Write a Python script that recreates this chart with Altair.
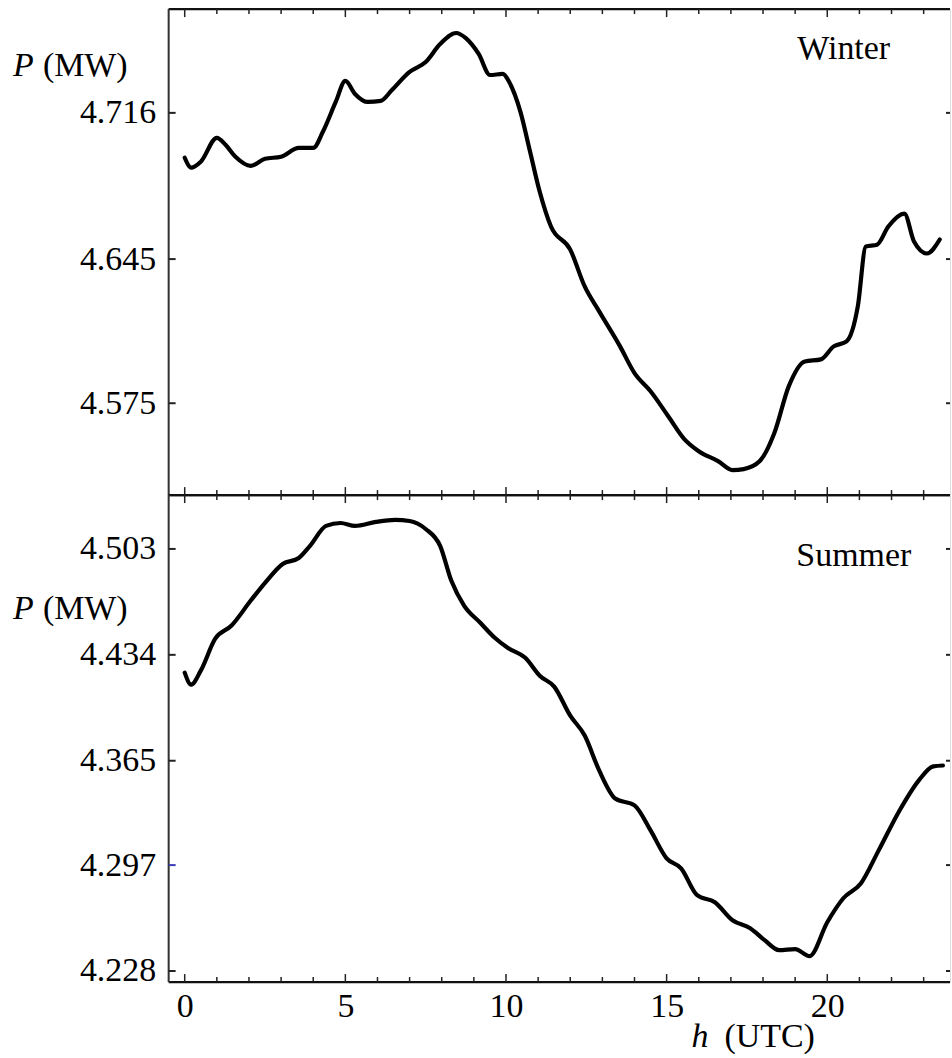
import altair as alt
import pandas as pd

# ---------------- data ----------------
HOURS_WINTER = [0, 0.2, 0.5, 1.0, 1.27, 1.58, 2.05, 2.5, 3.0, 3.55, 4.0, 4.3, 4.7, 5.0,
                5.3, 5.7, 6.1, 6.45, 7.0, 7.5, 7.95, 8.45, 8.75, 9.15, 9.5, 9.9, 10.1,
                10.45, 10.75, 11.05, 11.4, 12.0, 12.45, 12.9, 13.55, 14.0, 14.5, 15.05,
                15.55, 16.0, 16.6, 17.05, 17.4, 17.9, 18.35, 18.8, 19.3, 19.8, 20.2,
                20.6, 20.95, 21.2, 21.55, 21.9, 22.4, 22.7, 23.1, 23.5]
POWER_WINTER = [4.6942, 4.6894, 4.6923, 4.7039, 4.7005, 4.6947, 4.6903, 4.6937, 4.6947,
                4.6990, 4.6990, 4.7068, 4.7213, 4.7315, 4.7252, 4.7213, 4.7218, 4.7271,
                4.7359, 4.7407, 4.7494, 4.7548, 4.7523, 4.7446, 4.7344, 4.7349, 4.7310,
                4.7165, 4.6971, 4.6777, 4.6608, 4.6496, 4.6317, 4.6196, 4.6026, 4.5896,
                4.5808, 4.5687, 4.5576, 4.5517, 4.5469, 4.5425, 4.5430, 4.5469, 4.5604,
                4.5832, 4.5953, 4.5963, 4.6026, 4.6050, 4.6220, 4.6511, 4.6520, 4.6608,
                4.6671, 4.6535, 4.6477, 4.6545]

HOURS_SUMMER = [0, 0.2, 0.5, 0.95, 1.45, 2.05, 2.5, 3.05, 3.55, 3.9, 4.4, 4.85, 5.3,
                5.95, 6.55, 7.0, 7.5, 7.95, 8.3, 8.7, 9.2, 9.65, 10.05, 10.6, 11.05,
                11.5, 12.0, 12.45, 12.9, 13.4, 14.0, 14.5, 15.0, 15.45, 15.95, 16.5,
                17.05, 17.6, 18.05, 18.5, 19.0, 19.45, 20.0, 20.5, 21.05, 21.6, 22.25,
                22.85, 23.3, 23.6]
POWER_SUMMER = [4.4224, 4.4146, 4.4237, 4.4445, 4.4529, 4.4692, 4.4809, 4.4932, 4.4971,
                4.5050, 4.5180, 4.5199, 4.5180, 4.5206, 4.5219, 4.5212, 4.5160, 4.5050,
                4.4822, 4.4659, 4.4549, 4.4451, 4.4386, 4.4321, 4.4204, 4.4133, 4.3944,
                4.3814, 4.3587, 4.3404, 4.3359, 4.3196, 4.3014, 4.2949, 4.2774, 4.2728,
                4.2611, 4.2559, 4.2481, 4.2416, 4.2423, 4.2377, 4.2598, 4.2754, 4.2852,
                4.3066, 4.3326, 4.3522, 4.3613, 4.3619]

YTICKS_WINTER = [4.716, 4.645, 4.575]
YTICKS_SUMMER = [4.503, 4.434, 4.365, 4.297, 4.228]
YDOMAIN_WINTER = [4.5304, 4.7664]
YDOMAIN_SUMMER = [4.2208, 4.5381]
XDOMAIN = [-0.5, 23.82]
XTICKS_MAJOR = [0, 5, 10, 15, 20]
XTICKS_MINOR = [1, 2, 3, 4, 6, 7, 8, 9, 11, 12, 13, 14, 16, 17, 18, 19, 21, 22, 23]
BLUE_TICK = 4.297

SEASONS = ["Winter", "Summer"]
Y_SYMBOL, Y_UNIT = "P", "(MW)"
X_SYMBOL, X_UNIT = "h", "(UTC)"

# ---------------- styling ----------------
FONT = "Liberation Serif"
W = 783
H_TOP = 487
H_BOT = 488
FRAME = "#333333"
XSCALE = alt.Scale(domain=XDOMAIN, nice=False, zero=False)
one_row = pd.DataFrame({"k": [0]})


def text_layer(txt, x, y, italic=False, size=34):
    return alt.Chart(pd.DataFrame({"t": [txt]})).mark_text(
        font=FONT, fontSize=size, align="left", baseline="alphabetic",
        fontStyle="italic" if italic else "normal", color="black"
    ).encode(text="t:N", x=alt.value(x), y=alt.value(y))


def panel(hours, vals, ydom, yticks, season, height, season_xy, plab_y, bottom):
    yscale = alt.Scale(domain=ydom, nice=False, zero=False)
    df = pd.DataFrame({"h": hours, "p": vals})
    xaxis = None
    if bottom:
        xaxis = alt.Axis(values=XTICKS_MAJOR, labelFont=FONT, labelFontSize=34,
                         labelColor="black", domain=False, ticks=False, tickSize=0,
                         grid=False, title=None, labelPadding=8, format="d")
    line = alt.Chart(df).mark_line(
        color="black", strokeWidth=4.2, interpolate="monotone", strokeCap="round",
        strokeJoin="round"
    ).encode(
        x=alt.X("h:Q", scale=XSCALE, axis=xaxis),
        y=alt.Y("p:Q", scale=yscale,
                axis=alt.Axis(values=yticks, format=".3f", labelFont=FONT,
                              labelFontSize=34, labelColor="black", domain=False,
                              ticks=False, tickSize=0, grid=False, title=None,
                              labelPadding=13)),
    )

    layers = [line]
    # frame (top, bottom, left)
    layers.append(alt.Chart(one_row).mark_rule(color="#111111", strokeWidth=2.2).encode(
        x=alt.value(0), x2=alt.value(W), y=alt.value(0)))
    layers.append(alt.Chart(one_row).mark_rule(color="#111111", strokeWidth=2.2).encode(
        x=alt.value(0), x2=alt.value(W), y=alt.value(height)))
    layers.append(alt.Chart(one_row).mark_rule(color=FRAME, strokeWidth=2).encode(
        x=alt.value(0), y=alt.value(0), y2=alt.value(height)))

    # x ticks (inward, top & bottom)
    for ticks, ln in ((XTICKS_MAJOR, 8), (XTICKS_MINOR, 5)):
        tdf = pd.DataFrame({"h": ticks})
        layers.append(alt.Chart(tdf).mark_rule(color="#222222", strokeWidth=1.5).encode(
            x=alt.X("h:Q", scale=XSCALE), y=alt.value(0), y2=alt.value(ln)))
        layers.append(alt.Chart(tdf).mark_rule(color="#222222", strokeWidth=1.5).encode(
            x=alt.X("h:Q", scale=XSCALE), y=alt.value(height), y2=alt.value(height - ln)))

    # y ticks (inward, left & right)
    ydf = pd.DataFrame({"v": yticks})
    layers.append(alt.Chart(ydf).mark_rule(strokeWidth=2).encode(
        y=alt.Y("v:Q", scale=yscale), x=alt.value(0), x2=alt.value(7),
        color=alt.condition(f"abs(datum.v - {BLUE_TICK}) < 1e-6",
                            alt.value("#3b3bb5"), alt.value("#222222"))))
    layers.append(alt.Chart(ydf).mark_rule(strokeWidth=2, color="#222222").encode(
        y=alt.Y("v:Q", scale=yscale), x=alt.value(W - 4), x2=alt.value(W)))

    # labels
    layers.append(text_layer(season, season_xy[0], season_xy[1]))
    layers.append(text_layer(Y_SYMBOL, -156, plab_y, italic=True))
    layers.append(text_layer(Y_UNIT, -126, plab_y))
    if bottom:
        layers.append(text_layer(X_SYMBOL, 524, height + 65, italic=True))
        layers.append(text_layer(X_UNIT, 557, height + 65))

    return alt.layer(*layers).properties(width=W, height=height)


top = panel(HOURS_WINTER, POWER_WINTER, YDOMAIN_WINTER, YTICKS_WINTER, SEASONS[0],
            H_TOP, (630, 50), 67, False)
bot = panel(HOURS_SUMMER, POWER_SUMMER, YDOMAIN_SUMMER, YTICKS_SUMMER, SEASONS[1],
            H_BOT, (629, 71), 124, True)

chart = alt.vconcat(top, bot, spacing=0, bounds="flush").properties(
    padding={"left": 12, "top": 6, "right": 0, "bottom": 0}
).configure_view(stroke=None).configure(background="white")

chart.save("out.html", embed_options={"renderer": "svg", "actions": False})
